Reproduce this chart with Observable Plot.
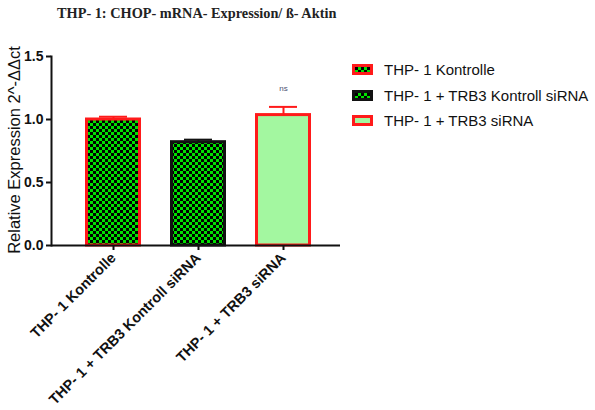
<!DOCTYPE html>
<html><head><meta charset="utf-8">
<script src="https://cdn.jsdelivr.net/npm/d3@7"></script>
<script src="https://cdn.jsdelivr.net/npm/@observablehq/plot@0.6"></script>
<style>
body{margin:0;background:#fff}
#wrap{position:relative;width:595px;height:410px;overflow:hidden}
#title{position:absolute;left:57px;top:5px;font-family:"Liberation Serif","Times New Roman",serif;font-weight:bold;font-size:14.3px;color:#222;white-space:nowrap}
#legend{position:absolute;left:352px;top:57px;font-family:"Liberation Sans",Arial,sans-serif;font-size:15px;color:#111}
#legend .row{display:flex;align-items:center;height:25.5px;white-space:nowrap}
#legend svg{margin-right:11px}
</style></head>
<body><div id="wrap"><div id="title"></div><div id="legend"></div></div>
<script>
const title = "THP- 1: CHOP- mRNA- Expression/ ß- Aktin";
const yLabel = "Relative Expression 2^-ΔΔct";
const categories = ["THP- 1 Kontrolle", "THP- 1 + TRB3 Kontroll siRNA", "THP- 1 + TRB3 siRNA"];
const means = [1.0, 0.82, 1.035];
const errors = [0.022, 0.02, 0.065];
const yTicks = [0, 0.5, 1.0, 1.5];
const significance = ["", "", "ns"];

// styles (separate from data)
const fills = ["url(#chk)", "url(#chk)", "#a3f7a0"];
const strokes = ["#ff1a1a", "#111111", "#ff1a1a"];

const data = categories.map((c, i) => ({cat: c, mean: means[i], err: errors[i], top: means[i] + errors[i], sig: significance[i], fill: fills[i], stroke: strokes[i]}));

document.getElementById("title").textContent = title;

const chart = Plot.plot({
  width: 595, height: 410,
  marginLeft: 51, marginRight: 255, marginTop: 56, marginBottom: 165,
  style: {fontFamily: "'Liberation Sans', Arial, sans-serif", fontSize: "13px", color: "#111", background: "transparent", overflow: "visible"},
  x: {domain: categories, range: [70.5, 325.5], paddingInner: 0.34, paddingOuter: 0.17, label: null},
  y: {domain: [0, 1.5], label: null},
  color: {type: "identity"},
  marks: [
    Plot.barY(data, {x: "cat", y: "mean", fill: "fill", stroke: "stroke", strokeWidth: 3, insetLeft: 1.5, insetRight: 1.5}),
    Plot.ruleX(data, {x: "cat", y1: "mean", y2: "top", stroke: "stroke", strokeWidth: 2}),
    Plot.tickY(data, {x: "cat", y: "top", stroke: "stroke", strokeWidth: 2, insetLeft: 14, insetRight: 14}),
    Plot.text(data, {x: "cat", y: "top", text: "sig", dy: -18, fontSize: 8, fill: "#4a5070"}),
    Plot.ruleY([0], {stroke: "#111", strokeWidth: 2}),
    Plot.frame({anchor: "left", stroke: "#111", strokeWidth: 2}),
    Plot.axisY({ticks: yTicks, tickFormat: d3.format(".1f"), tickSize: 5, tickPadding: 3, fontWeight: "bold", fontSize: 14, strokeWidth: 2, label: null}),
    Plot.axisX({tickSize: 5, tickPadding: 5, tickRotate: -45, fontWeight: "bold", fontSize: 14.5, strokeWidth: 2, label: null}),
    Plot.text([yLabel], {frameAnchor: "left", textAnchor: "middle", rotate: -90, dx: -37, dy: -1, fontSize: 16.5, fill: "#111"})
  ]
});

// checker pattern
const svg = d3.select(chart);
const defs = svg.insert("defs", ":first-child");
const pat = defs.append("pattern").attr("id", "chk").attr("patternUnits", "userSpaceOnUse").attr("width", 6).attr("height", 6);
pat.append("rect").attr("width", 6).attr("height", 6).attr("fill", "#00e000");
pat.append("rect").attr("width", 3).attr("height", 3).attr("fill", "#000");
pat.append("rect").attr("x", 3).attr("y", 3).attr("width", 3).attr("height", 3).attr("fill", "#000");

document.getElementById("wrap").insertBefore(chart, document.getElementById("wrap").firstChild);
chart.style.position = "absolute"; chart.style.left = "0"; chart.style.top = "0";

// legend
const legend = d3.select("#legend");
categories.forEach((c, i) => {
  const row = legend.append("div").attr("class", "row");
  const s = row.append("svg").attr("width", 21).attr("height", 11);
  s.append("rect").attr("x", 1.5).attr("y", 1.5).attr("width", 18).attr("height", 8)
    .attr("fill", fills[i]).attr("stroke", strokes[i]).attr("stroke-width", 3);
  row.append("span").text(c);
});
</script></body></html>
